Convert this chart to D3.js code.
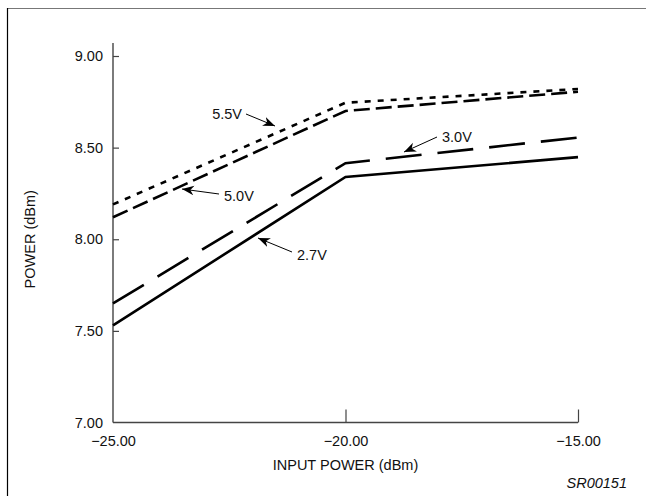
<!DOCTYPE html>
<html><head><meta charset="utf-8">
<script src="https://cdn.jsdelivr.net/npm/d3@7"></script>
<style>body{margin:0;background:#fff}svg{display:block}text{font-family:"Liberation Sans",Arial,sans-serif}</style>
</head><body><div id="c"></div>
<script>
const inputPower = [-25, -20, -15];
const v55 = [8.19, 8.745, 8.82];
const v50 = [8.12, 8.70, 8.805];
const v30 = [7.65, 8.415, 8.555];
const v27 = [7.53, 8.34, 8.448];
const seriesNames = ["5.5V", "5.0V", "3.0V", "2.7V"];
const xTicks = [-25, -20, -15];
const yTicks = [7.00, 7.50, 8.00, 8.50, 9.00];

const W = 646, H = 496;
const svg = d3.select("#c").append("svg").attr("width", W).attr("height", H);
const x = d3.scaleLinear().domain([-25, -15]).range([113, 578]);
const y = d3.scaleLinear().domain([7, 9]).range([422.5, 56]);

// frame (top and left)
svg.append("line").attr("x1", 7).attr("y1", 8.5).attr("x2", W).attr("y2", 8.5).attr("stroke", "#777").attr("stroke-width", 1.2);
svg.append("line").attr("x1", 7.5).attr("y1", 8).attr("x2", 7.5).attr("y2", H).attr("stroke", "#000").attr("stroke-width", 1.2);

// axes
const fmt = d => d.toFixed(2).replace("-", "\u2212");
const yAx = svg.append("g").attr("transform", `translate(${x(-25)},0)`)
  .call(d3.axisLeft(y).tickValues(yTicks).tickSize(-6).tickPadding(10).tickFormat(fmt));
const xAx = svg.append("g").attr("transform", `translate(0,${y(7)})`)
  .call(d3.axisBottom(x).tickValues(xTicks).tickSize(-13).tickPadding(13).tickFormat(fmt));
[yAx, xAx].forEach(g => {
  g.select(".domain").remove();
  g.selectAll("line").attr("stroke", "#444").attr("stroke-width", 1.2);
  g.selectAll("text").attr("font-size", 14.5).attr("fill", "#111").attr("font-family", "Liberation Sans, Arial, sans-serif");
});
xAx.selectAll(".tick").filter(d => d === -25).select("line").remove();
yAx.selectAll(".tick").filter(d => d === 7).select("line").remove();
// axis lines
svg.append("line").attr("x1", x(-25)).attr("x2", x(-25)).attr("y1", 43).attr("y2", y(7)).attr("stroke", "#444").attr("stroke-width", 1.4);
svg.append("line").attr("x1", x(-25)).attr("x2", x(-15)).attr("y1", y(7)).attr("y2", y(7)).attr("stroke", "#444").attr("stroke-width", 1.4);

// titles
svg.append("text").attr("x", x(-20)).attr("y", 470).attr("text-anchor", "middle").attr("font-size", 14.5).attr("fill", "#111").text("INPUT POWER (dBm)");
svg.append("text").attr("transform", `translate(35,${y(8)}) rotate(-90)`).attr("text-anchor", "middle").attr("font-size", 14.5).attr("fill", "#111").text("POWER (dBm)");
svg.append("text").attr("x", 627).attr("y", 488).attr("text-anchor", "end").attr("font-size", 14.5).attr("font-style", "italic").attr("fill", "#111").text("SR00151");

// series
const series = [
  {name: seriesNames[0], vals: v55, dash: "6,7"},
  {name: seriesNames[1], vals: v50, dash: "16,6"},
  {name: seriesNames[2], vals: v30, dash: "36,16"},
  {name: seriesNames[3], vals: v27, dash: null}
];
const line = d3.line().x((d, i) => x(inputPower[i])).y(d => y(d));
svg.selectAll("path.s").data(series).enter().append("path")
  .attr("d", d => line(d.vals)).attr("fill", "none").attr("stroke", "#000")
  .attr("stroke-width", 2.6).attr("stroke-dasharray", d => d.dash);

// labels with arrows
svg.append("defs").append("marker").attr("id", "ah").attr("viewBox", "0 0 10 10").attr("refX", 10).attr("refY", 5)
  .attr("markerWidth", 12).attr("markerHeight", 12).attr("markerUnits", "userSpaceOnUse").attr("orient", "auto")
  .append("path").attr("d", "M0,1 L10,5 L0,9 L3,5 Z").attr("fill", "#000");
const labels = [
  {t: seriesNames[0], tx: 242, ty: 119, anchor: "end", a: [246, 114, 275, 126]},
  {t: seriesNames[1], tx: 224, ty: 201, anchor: "start", a: [219, 194, 182, 189]},
  {t: seriesNames[2], tx: 442, ty: 142, anchor: "start", a: [437, 137, 404, 152]},
  {t: seriesNames[3], tx: 297, ty: 260, anchor: "start", a: [292, 252, 258, 238]}
];
labels.forEach(l => {
  svg.append("text").attr("x", l.tx).attr("y", l.ty).attr("text-anchor", l.anchor).attr("font-size", 14.5).attr("fill", "#111").text(l.t);
  svg.append("line").attr("x1", l.a[0]).attr("y1", l.a[1]).attr("x2", l.a[2]).attr("y2", l.a[3])
    .attr("stroke", "#000").attr("stroke-width", 1).attr("marker-end", "url(#ah)");
});
</script></body></html>
